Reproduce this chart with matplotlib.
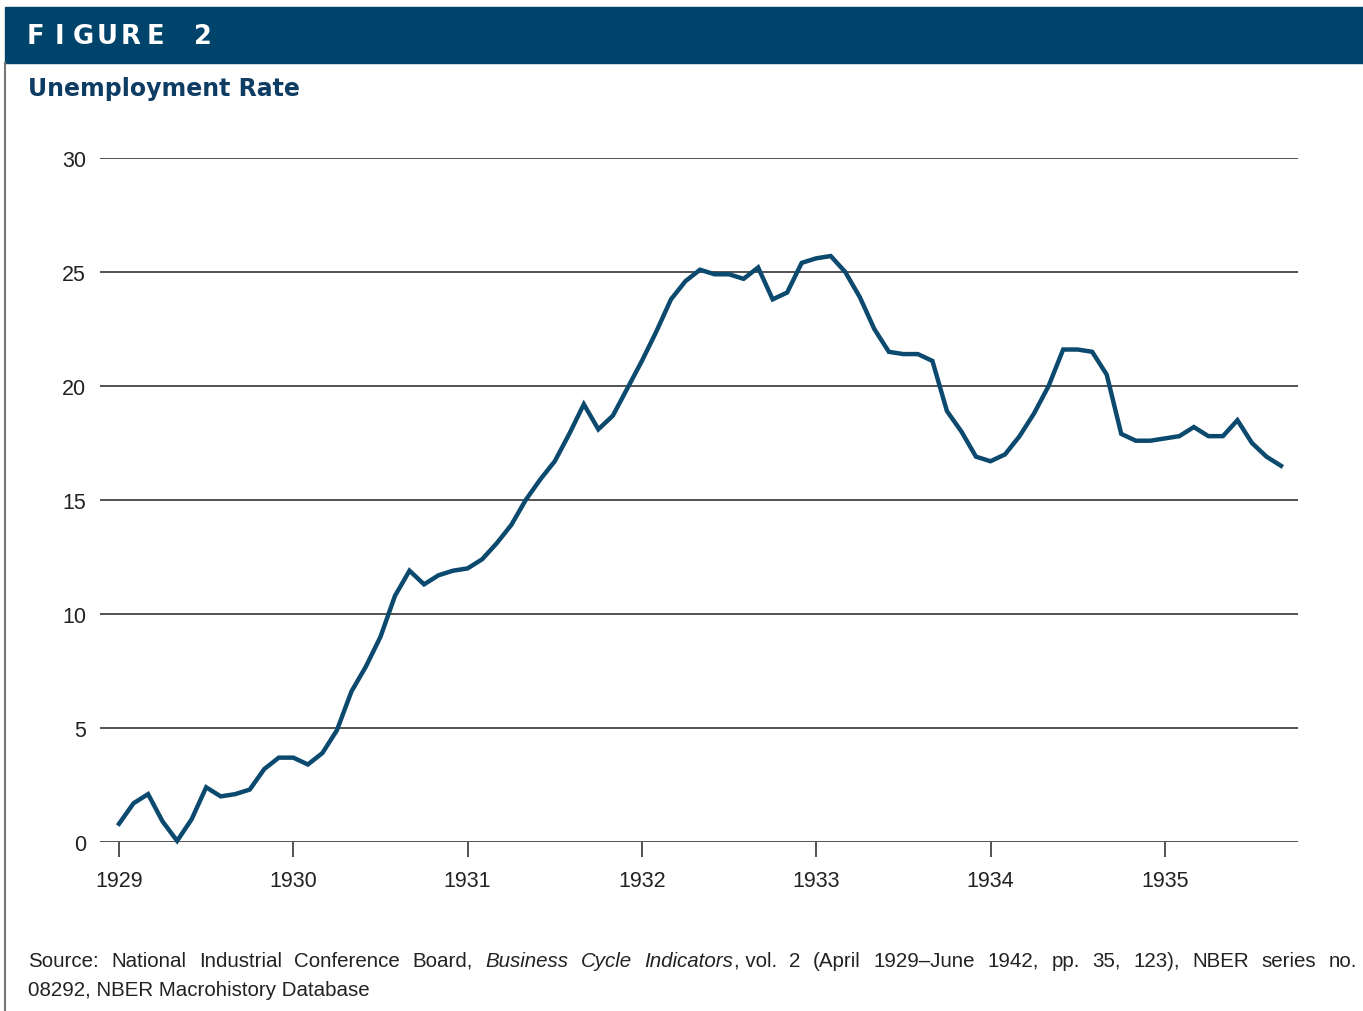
import matplotlib
matplotlib.use("Agg")
import matplotlib.pyplot as plt
from matplotlib.patches import Rectangle
from matplotlib.lines import Line2D

# monthly unemployment rate, April 1929 onward
rate = [0.8, 1.7, 2.1, 0.9, 0.05, 1.0, 2.4, 2.0, 2.1, 2.3, 3.2, 3.7,
        3.7, 3.4, 3.9, 4.9, 6.6, 7.7, 9.0, 10.8, 11.9, 11.3, 11.7, 11.9,
        12.0, 12.4, 13.1, 13.9, 15.0, 15.9, 16.7, 17.9, 19.2, 18.1, 18.7, 19.9,
        21.1, 22.4, 23.8, 24.6, 25.1, 24.9, 24.9, 24.7, 25.2, 23.8, 24.1, 25.4,
        25.6, 25.7, 25.0, 23.9, 22.5, 21.5, 21.4, 21.4, 21.1, 18.9, 18.0, 16.9,
        16.7, 17.0, 17.8, 18.8, 20.0, 21.6, 21.6, 21.5, 20.5, 17.9, 17.6, 17.6,
        17.7, 17.8, 18.2, 17.8, 17.8, 18.5, 17.5, 16.9, 16.5]
years = ["1929", "1930", "1931", "1932", "1933", "1934", "1935"]
yticks = [0, 5, 10, 15, 20, 25, 30]

navy = "#00446b"
line_col = "#0b4a6e"
grid_col = "#444444"

W, H = 1363, 1012
fig = plt.figure(figsize=(W / 100, H / 100), dpi=100)

# header banner and left border
fig.patches.append(Rectangle((5 / W, 1 - 64 / H), 1 - 5 / W, 56 / H,
                             transform=fig.transFigure, color=navy, zorder=0))
fig.lines.append(Line2D([5 / W, 5 / W], [0, 1 - 64 / H], transform=fig.transFigure,
                        color="#777777", lw=1.5))

for i, ch in enumerate("FIGURE 2"):
    fig.text((35 + 24 * i) / W, 1 - 37 / H, ch, color="white", fontsize=18.5,
             fontweight="bold", family="DejaVu Sans", ha="center", va="center")

fig.text(28 / W, 1 - 89 / H, "Unemployment Rate", color="#0e3c63", fontsize=17,
         fontweight="bold", family="DejaVu Sans", ha="left", va="center")

# plot area
ax = fig.add_axes([100 / W, 1 - 843 / H, 1198 / W, 684 / H])
x = list(range(len(rate)))
ax.plot(x, rate, color=line_col, lw=3.2, solid_joinstyle="miter", clip_on=False, zorder=3)
ax.set_xlim(-1.31, 81.17)
ax.set_ylim(0, 30)
ax.set_yticks(yticks)
ax.set_yticklabels([str(v) for v in yticks])
ax.set_xticks([12 * i for i in range(len(years))])
ax.set_xticklabels(years)
for v in yticks:
    ax.axhline(v, color=grid_col, lw=1.3, zorder=1)
for s in ax.spines.values():
    s.set_visible(False)
ax.tick_params(axis="y", length=0, pad=10, labelsize=15.5, labelcolor="#222222")
ax.tick_params(axis="x", length=11, width=1.3, color=grid_col, pad=9,
               labelsize=15.5, labelcolor="#222222")
for lab in ax.get_xticklabels() + ax.get_yticklabels():
    lab.set_family("Liberation Sans")

# source note, first line justified
line1 = [("Source:", "normal"), ("National", "normal"), ("Industrial", "normal"),
         ("Conference", "normal"), ("Board,", "normal"), ("Business", "italic"),
         ("Cycle", "italic"), ("Indicators", "italic"), (", vol.", "normal"), ("2", "normal"),
         ("(April", "normal"), ("1929\u2013June", "normal"), ("1942,", "normal"),
         ("pp.", "normal"), ("35,", "normal"), ("123),", "normal"), ("NBER", "normal"),
         ("series", "normal"), ("no.", "normal")]
line2 = "08292, NBER Macrohistory Database"

fig.canvas.draw()
r = fig.canvas.get_renderer()
fs = 14.8
left, right = 28, 1357
items = []
total = 0
for word, style in line1:
    t = fig.text(0, 1 - 967 / H, word, fontsize=fs, style=style, family="Liberation Sans",
                 color="#222222", va="baseline", ha="left")
    w = t.get_window_extent(renderer=r).width
    items.append((t, w, word))
    total += w
gap = (right - left - total) / (len(items) - 2)
xpos = left
for t, w, word in items:
    # "Indicators" and ", vol." are joined without a space
    if word == ", vol.":
        xpos -= gap
    t.set_x(xpos / W)
    xpos += w + gap
fig.text(left / W, 1 - 996 / H, line2, fontsize=fs, family="Liberation Sans",
         color="#222222", va="baseline", ha="left")

fig.savefig("out.png", dpi=100)
